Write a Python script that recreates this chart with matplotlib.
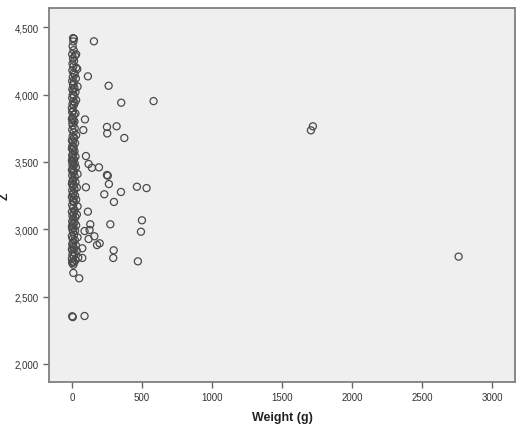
import numpy as np
import matplotlib
matplotlib.use("Agg")
import matplotlib.pyplot as plt
from matplotlib.ticker import FuncFormatter

plt.rcParams['font.family'] = ['Liberation Sans', 'DejaVu Sans']

# points clustered near zero weight
near_w = [8, 14, 10, 5, 12, 2, 30, 22, 8, 15, 4, 10, 30, 38, 3, 12, 20, 6, 28, 2,
          14, 8, 40, 18, 3, 10, 25, 6, 15, 2, 30, 10, 20, 4, 12, 0, 8, 2, 25, 14,
          5, 0, 10, 18, 3, 6, 20, 2, 12, 30, 5, 15, 0, 8, 22, 3, 12, 0, 6, 18,
          10, 2, 25, 5, 15, 0, 8, 20, 3, 12, 28, 5, 0, 15, 8, 40, 2, 20, 10, 4,
          25, 0, 14, 6, 35, 18, 2, 10, 5, 22, 0, 12, 30, 6, 16, 2, 40, 8, 20, 0,
          12, 35, 4, 25, 10, 2, 18, 6, 30, 0, 12, 3, 22, 8, 15, 0, 40, 5, 20, 10,
          2, 28, 6, 15, 0, 35, 8, 20, 3, 12, 45, 0, 25, 6, 2, 15, 81, 74, 10, 52, 10]
near_z = [4420, 4415, 4395, 4360, 4330, 4300, 4300, 4290, 4270, 4250, 4230, 4210, 4200, 4190, 4180, 4160, 4150, 4130, 4120, 4100,
          4090, 4070, 4060, 4050, 4040, 4030, 4020, 4000, 3990, 3975, 3960, 3950, 3940, 3930, 3920, 3900, 3880, 3870, 3860, 3850,
          3830, 3820, 3810, 3800, 3790, 3770, 3750, 3740, 3720, 3700, 3690, 3680, 3660, 3650, 3640, 3620, 3610, 3600, 3590, 3580,
          3560, 3550, 3540, 3530, 3520, 3510, 3500, 3490, 3480, 3470, 3460, 3450, 3440, 3430, 3420, 3410, 3400, 3390, 3370, 3360,
          3350, 3340, 3330, 3320, 3310, 3300, 3290, 3270, 3260, 3250, 3240, 3230, 3220, 3210, 3200, 3180, 3170, 3160, 3140, 3130,
          3120, 3110, 3100, 3090, 3080, 3060, 3050, 3040, 3030, 3020, 3010, 3000, 2990, 2980, 2960, 2950, 2940, 2930, 2920, 2900,
          2890, 2880, 2870, 2860, 2850, 2840, 2830, 2820, 2810, 2800, 2790, 2780, 2770, 2760, 2750, 2755, 3737, 2859, 2737, 2636, 2676]

# scattered points with larger weights
far_w = [157, 114, 262, 352, 583, 1707, 1721, 2762, 93, 250, 319, 252, 374, 100, 119, 143,
         193, 250, 256, 264, 100, 231, 350, 464, 533, 300, 114, 274, 500, 493, 131, 126,
         90, 160, 119, 179, 198, 298, 295, 471, 74, 2, 6, 90]
far_z = [4396, 4136, 4066, 3940, 3952, 3735, 3765, 2797, 3816, 3760, 3765, 3712, 3678, 3544, 3485, 3457,
         3460, 3403, 3398, 3336, 3312, 3260, 3277, 3316, 3306, 3203, 3131, 3037, 3067, 2982, 3037, 2995,
         2987, 2948, 2928, 2883, 2896, 2844, 2787, 2762, 2787, 2354, 2348, 2356]

weight = near_w + far_w
z = near_z + far_z

fig = plt.figure(figsize=(5.2, 4.31), dpi=100)
ax = fig.add_axes([0.0942, 0.1114, 0.896, 0.8676])
ax.set_facecolor('#efefef')

ax.scatter(weight, z, s=26, facecolors='none', edgecolors='#4a4a4a', linewidths=0.9)

ax.set_xlim(-164, 3164)
ax.set_ylim(1866, 4643)
ax.set_xticks([0, 500, 1000, 1500, 2000, 2500, 3000])
ax.set_yticks([2000, 2500, 3000, 3500, 4000, 4500])
ax.yaxis.set_major_formatter(FuncFormatter(lambda v, p: f'{int(v):,}'))

for s in ax.spines.values():
    s.set_color('#808080')
    s.set_linewidth(1.3)
ax.tick_params(direction='out', length=4, width=1, color='#666666',
               labelsize=7, labelcolor='#333333', top=False, right=False)

ax.set_xlabel('Weight (g)', fontsize=9, fontweight='bold', color='#222222', labelpad=6)
ax.set_ylabel('Z', fontsize=9, fontweight='bold', color='#222222')
ax.yaxis.set_label_coords(-0.082, 0.5)

fig.savefig('out.png', dpi=100)
